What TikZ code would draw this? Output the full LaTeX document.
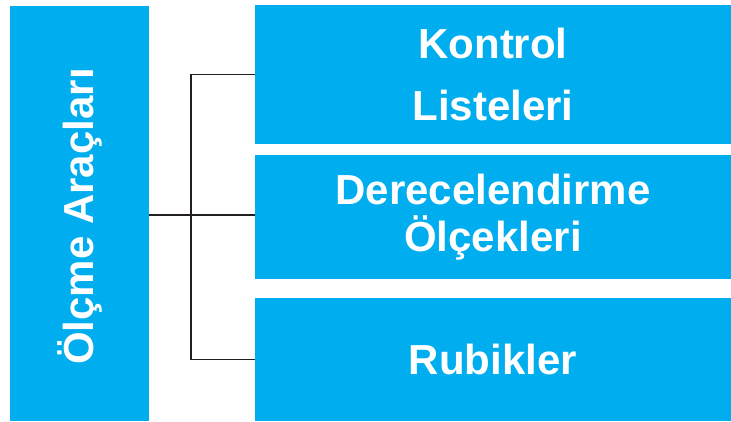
\documentclass[tikz,border=0pt]{standalone}
\usepackage{fontspec}
\setmainfont{Liberation Sans}
\usepackage{tikz}
\usetikzlibrary{positioning}
\definecolor{toolblue}{RGB}{0,174,239}
\definecolor{linegray}{RGB}{35,31,32}
\tikzset{box/.style={fill=toolblue, text=white, inner sep=0pt, align=center,
  font=\fontsize{42}{47}\selectfont\bfseries}}

\begin{document}
\begin{tikzpicture}[x=1pt,y=-1pt]
\useasboundingbox (0,0) rectangle (731,421);
\node[box, minimum width=139pt, minimum height=415pt] (tools) at (79.5,213.5) {};
\node[rotate=90, box, fill=none] (toolstext) at (79.5,216.5) {Ölçme Araçları};
\node[box, minimum width=476pt, minimum height=139pt] (check) at (493,74.5) {Kontrol\\[15pt]Listeleri};
\node[box, minimum width=476pt, minimum height=124pt] (rating) at (493,217) {Derecelendirme\\Ölçekleri};
\node[box, minimum width=476pt, minimum height=123pt] (rubric) at (493,359.5) {Rubikler};
\coordinate (split) at (191,215);
\draw[linegray, line width=1.6pt] (tools.east |- split) -- (rating.west |- split);
\draw[linegray, line width=1.6pt] (check.west) -| (split) |- (rubric.west);
\end{tikzpicture}
\end{document}
